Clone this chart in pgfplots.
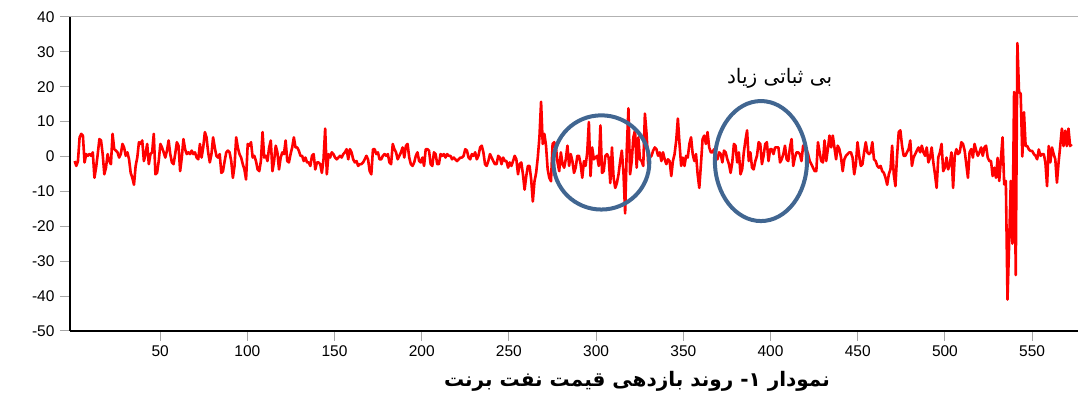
\documentclass[border=0pt]{standalone}
\usepackage{pgfplots}
\pgfplotsset{compat=1.18}
\usepackage{pgfplotstable}
\usepackage{fontspec}
\setmainfont{Liberation Sans}
\newfontfamily\fa[Script=Arabic]{DejaVu Sans}
\TeXXeTstate=1
\definecolor{ell}{RGB}{65,102,145}

\pgfplotstableread[row sep=\\]{
v\\
-1.3\\ -2.7\\ -1.3\\ 5.5\\ 6.5\\ 6.0\\ -1.7\\ 0.7\\ 0.2\\ 0.7\\ 0.2\\ 1.2\\ -6.1\\ -3.2\\ 0.7\\ 5.0\\ 4.6\\ 0.7\\ -5.1\\ -3.2\\ 0.7\\ -1.3\\ -2.2\\ 6.5\\ 2.1\\ 1.7\\ 1.2\\ -0.3\\ 0.7\\ 3.6\\ 2.6\\ 0.2\\ 1.2\\ -0.8\\ -4.7\\ -6.1\\ -8.1\\ -2.7\\ -0.3\\ 4.1\\ 3.6\\ 4.6\\ -1.3\\ 0.7\\ 3.6\\ -2.2\\ 0.7\\ 1.2\\ 6.5\\ -5.1\\ -4.7\\ -1.3\\ 3.6\\ 2.6\\ 1.2\\ -0.3\\ 1.7\\ 4.6\\ 0.7\\
-1.7\\ -2.2\\ 0.7\\ 4.1\\ 3.1\\ -4.2\\ -0.3\\ 5.0\\ 2.1\\ 0.7\\ 1.2\\ 0.7\\ 1.7\\ 0.7\\ 1.2\\ -0.3\\ -0.8\\ 3.6\\ -0.3\\ 2.6\\ 7.0\\ 5.5\\ 1.2\\ -1.7\\ 0.7\\ 5.5\\ 2.6\\ 0.2\\ -0.3\\ 0.7\\ -4.7\\ -4.2\\ -1.3\\ 1.2\\ 1.7\\ 1.2\\ -1.3\\ -6.1\\ -2.7\\ 5.5\\ 2.6\\ 0.7\\ -0.3\\ -2.2\\ -3.7\\ -6.6\\ 3.6\\ 3.1\\ 4.1\\ -0.3\\ 0.2\\ -1.3\\ -3.7\\ -4.2\\ -1.3\\ 7.0\\ -0.3\\ 0.2\\ -1.3\\ 2.6\\ 4.6\\ -4.2\\ -1.3\\ 3.1\\
1.2\\ -3.7\\ -0.3\\ 1.2\\ 0.7\\ 4.6\\ -1.3\\ -1.7\\ 0.7\\ 2.6\\ 5.5\\ 2.6\\ 2.6\\ 1.7\\ 0.2\\ 0.2\\ -1.3\\ -0.3\\ -1.7\\ -1.7\\ -2.7\\ 0.2\\ 0.7\\ -3.7\\ -1.7\\ -1.7\\ -2.2\\ -4.7\\ -0.8\\ 8.0\\ -5.1\\ 0.7\\ -0.3\\ 1.2\\ 0.7\\ -0.3\\ -0.8\\ -0.3\\ 0.2\\ -0.3\\ 0.7\\ 1.2\\ 2.1\\ -0.8\\ 2.1\\ 1.2\\ -0.8\\ -1.7\\ -1.3\\ -2.7\\ -2.2\\ -2.2\\ -1.7\\ -0.8\\ 0.2\\ -0.8\\ -4.2\\ -5.1\\ 2.1\\ 2.1\\ 0.7\\ 1.2\\ -0.8\\ -0.8\\
0.2\\ 0.7\\ 0.2\\ 0.7\\ -1.7\\ -2.2\\ 3.6\\ 2.1\\ 1.2\\ -0.8\\ 0.2\\ 1.2\\ 2.6\\ -0.3\\ 3.1\\ 3.6\\ -0.3\\ -2.2\\ -2.7\\ -1.7\\ 0.2\\ 1.2\\ -1.3\\ -1.7\\ -0.3\\ -2.7\\ 2.1\\ 2.1\\ 1.7\\ -2.2\\ -2.7\\ 1.2\\ 0.7\\ -2.2\\ -2.2\\ 0.7\\ 0.2\\ 0.7\\ -0.3\\ 0.7\\ 0.2\\ 0.2\\ -0.8\\ -0.3\\ -0.8\\ -1.3\\ -0.8\\ -0.3\\ -0.3\\ 0.2\\ 2.1\\ 1.7\\ -0.3\\ -0.8\\ 0.7\\ 0.2\\ 1.2\\ -0.8\\ 0.2\\ 2.6\\ 3.1\\ 1.2\\ -2.2\\
-2.7\\ -1.3\\ 0.7\\ -0.3\\ -1.3\\ -2.2\\ -2.2\\ 0.2\\ -0.3\\ -2.2\\ -0.3\\ -1.3\\ -1.3\\ -3.2\\ -1.7\\ -2.7\\ -1.3\\ 0.2\\ -0.8\\ -5.1\\ -2.2\\ -1.7\\ -5.1\\ -9.5\\ -5.6\\ -2.7\\ -2.7\\ -6.6\\ -12.9\\ -7.1\\ -4.7\\ -0.3\\ 5.5\\ 15.7\\ 3.6\\ 6.5\\ 3.1\\ -3.7\\ -6.1\\ -7.1\\ 3.6\\ 4.1\\ 2.6\\ -1.7\\ -4.2\\ 1.2\\ -2.2\\ -3.2\\ -0.8\\ 3.1\\ -2.7\\ 0.7\\ -1.3\\ -4.7\\ -3.2\\ 0.2\\ 0.2\\ -2.2\\ -6.1\\ -1.3\\ -2.7\\ 1.2\\ 9.9\\
-5.6\\ 2.6\\ -0.8\\ -0.3\\ 0.2\\ -2.7\\ 8.9\\ -4.7\\ -4.2\\ 0.2\\ 0.7\\ -0.3\\ -7.6\\ 2.6\\ -6.1\\ -9.0\\ -7.6\\ -5.1\\ -1.3\\ 1.7\\ -4.7\\ -16.3\\ 2.1\\ 13.8\\ -5.1\\ -1.3\\ 5.5\\ 7.5\\ -3.2\\ 5.5\\ -0.8\\ -1.3\\ -2.7\\ 12.3\\ 6.5\\ -2.2\\ -0.3\\ 0.2\\ 1.7\\ 2.6\\ 2.1\\ 0.2\\ 1.2\\ -1.3\\ 1.2\\ -0.8\\ -2.2\\ -0.8\\ -1.3\\ -5.6\\ -1.3\\ 0.7\\ 4.6\\ 10.9\\ 3.6\\ -2.7\\ -0.3\\ -2.7\\ 0.2\\ -0.3\\ 3.6\\ 5.5\\ 0.7\\
-1.3\\ 0.7\\ -5.1\\ -9.0\\ -2.2\\ 5.0\\ 6.0\\ 3.6\\ 7.0\\ 2.6\\ 1.2\\ 1.2\\ 2.1\\ -0.3\\ -0.8\\ 1.2\\ 0.7\\ -1.7\\ 1.7\\ 1.2\\ -0.8\\ -2.2\\ -4.7\\ -1.7\\ 3.6\\ 3.1\\ -1.7\\ 1.2\\ -5.1\\ -3.7\\ 1.2\\ 4.6\\ 7.5\\ -1.3\\ 1.2\\ -3.2\\ -3.7\\ -1.3\\ 0.2\\ 4.1\\ 3.6\\ -2.2\\ 0.2\\ 3.6\\ 4.1\\ -1.3\\ 2.1\\ 2.1\\ 0.7\\ 2.6\\ 2.6\\ 2.6\\ -1.7\\ -0.8\\ 0.7\\ 3.1\\ -0.8\\ -1.3\\ 2.6\\ 5.0\\ -2.7\\ -0.3\\ 1.2\\
1.2\\ 0.7\\ -1.3\\ 3.1\\ 2.6\\ 2.1\\ 0.7\\ -1.3\\ -2.2\\ -3.2\\ -4.2\\ -4.2\\ 4.1\\ 1.2\\ -1.3\\ -1.7\\ 4.6\\ -1.3\\ 2.1\\ 6.0\\ 2.6\\ 6.0\\ 2.6\\ -0.8\\ 3.1\\ 2.1\\ -0.3\\ -4.2\\ -0.8\\ 0.2\\ 0.7\\ 1.2\\ 1.2\\ -0.3\\ -5.1\\ -2.2\\ 4.1\\ 0.2\\ -2.7\\ -2.2\\ 1.2\\ 4.1\\ 1.2\\ 0.7\\ 1.2\\ 4.1\\ -0.8\\ -1.3\\ -2.7\\ -3.2\\ -2.7\\ -4.2\\ -4.7\\ -6.1\\ -8.1\\ -5.1\\ -3.7\\ 3.1\\ -5.1\\ -8.5\\ 0.2\\ 7.0\\ 7.5\\
3.1\\ 0.2\\ 0.2\\ 1.2\\ 2.1\\ 4.6\\ -2.7\\ -0.3\\ 0.7\\ 1.7\\ 2.6\\ 1.2\\ 3.1\\ 1.2\\ 0.2\\ 2.6\\ -1.7\\ -0.3\\ 2.6\\ -1.7\\ -5.1\\ -9.0\\ -0.3\\ 1.2\\ 3.6\\ -4.2\\ -3.2\\ -0.3\\ -3.7\\ -2.2\\ 1.2\\ -9.0\\ 0.2\\ 2.1\\ 0.7\\ 1.2\\ 4.1\\ 3.6\\ 1.7\\ -2.2\\ -6.1\\ 1.2\\ 2.1\\ -0.3\\ 3.6\\ 1.7\\ 0.2\\ 1.2\\ 2.6\\ 0.2\\ 2.6\\ 3.1\\ -0.3\\ -1.3\\ -1.3\\ -5.6\\ -3.2\\ -6.1\\
-0.4\\ -7\\ -0.8\\ 5.5\\ -8\\ -7\\ -41\\ -25\\ -7\\ -25\\ 18.5\\ -34\\ 32.5\\ 18.5\\ 18\\ 0\\ 12.7\\ 3\\ 3\\ 2\\ 1.6\\ 1.6\\ 0.7\\ 0.2\\ -0.8\\ 2\\ 0.2\\ 0.7\\ 0.7\\ -1.7\\ -8.5\\ 3\\ -1.7\\ 2.6\\ 0.7\\ -0.8\\ -7.5\\ -1.7\\ 3\\ 8\\ 3\\ 7.4\\ 3\\ 8\\ 3\\ 3.5\\
}\brent

\begin{document}
\begin{tikzpicture}
\begin{axis}[
  scale only axis, width=1008pt, height=314pt,
  xmin=-1.7, xmax=576.3, ymin=-50, ymax=40,
  axis x line=bottom, axis y line=left,
  axis line style={-, black, line width=1.2pt},
  xtick={50,100,...,550}, ytick={-50,-40,...,40},
  tick align=outside,
  major tick length=10pt,
  tick style={gray!70, line width=1pt},
  ticklabel style={font=\fontsize{15.5}{18}\selectfont},
  /pgf/number format/assume math mode=true,
  yticklabel style={xshift=-2pt},
  xticklabel style={yshift=-1pt},
  clip=false,
]
\addplot[red, line width=2.6pt, line join=round] table[x expr=\coordindex*0.945+1, y=v] {\brent};
\draw[gray!60, line width=1pt] (axis cs:-1.7,40) -- (axis cs:576.3,40);
\draw[ell, line width=4pt] (axis cs:303,-1.7) ellipse [x radius=27.5, y radius=13.5];
\draw[ell, line width=4pt] (axis cs:394.5,-1.3) ellipse [x radius=26.4, y radius=17.2];
\node[font=\fa\fontsize{20}{24}\selectfont] at (rel axis cs:0.704,0.806) {\beginR بی ثباتی زیاد\endR};
\node[font=\fa\bfseries\fontsize{20}{24}\selectfont] at (rel axis cs:0.5625,-0.159) {\beginR نمودار ۱- روند بازدهی قیمت نفت برنت\endR};
\coordinate (bl) at (rel axis cs:-0.0694,-0.207);
\coordinate (tr) at (rel axis cs:1.00198,1.054);
\end{axis}
\path (bl) rectangle (tr);
\end{tikzpicture}
\end{document}
